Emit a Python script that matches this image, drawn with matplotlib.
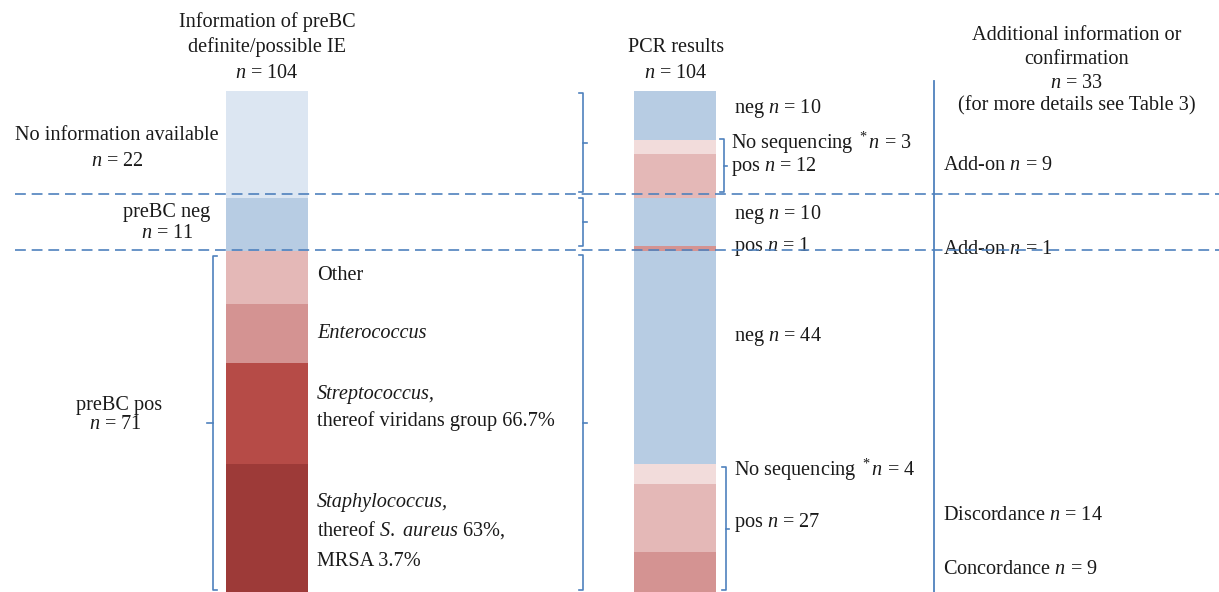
import matplotlib
matplotlib.use("Agg")
import matplotlib.pyplot as plt
import numpy as np

plt.rcParams['font.family'] = ['Liberation Serif', 'DejaVu Serif']
plt.rcParams['mathtext.fontset'] = 'custom'
plt.rcParams['mathtext.rm'] = 'Liberation Serif'
plt.rcParams['mathtext.it'] = 'Liberation Serif:italic'

# left bar: preBC information (top to bottom)
left_names = ['No information', 'preBC neg', 'Other', 'Enterococcus', 'Streptococcus', 'Staphylococcus']
left_counts = [22, 11, 11, 12, 21, 27]
left_colors = ['#dce6f2', '#b7cce3', '#e4b8b7', '#d49392', '#b64b47', '#9d3a38']

# right bar: PCR results (top to bottom)
right_names = ['neg', 'no seq', 'pos add-on', 'neg', 'pos add-on', 'neg', 'no seq', 'discordance', 'concordance']
right_counts = [10, 3, 9, 10, 1, 44, 4, 14, 9]
right_colors = ['#b7cce3', '#f2dcdb', '#e4b8b7', '#b7cce3', '#d49392', '#b7cce3', '#f2dcdb', '#e4b8b7', '#d49392']

W, H = 1219, 592
TOP, SCALE = 91, 4.85  # pixel of count 0, pixels per count
BLUE = '#4f81bd'
FS = 14.6

fig = plt.figure(figsize=(W / 100, H / 100), dpi=100)
ax = fig.add_axes([0, 0, 1, 1])
ax.set_xlim(0, W)
ax.set_ylim((H - TOP) / SCALE, -TOP / SCALE)
ax.axis('off')


def cy(py):
    # pixel row -> count axis
    return (py - TOP) / SCALE


def stack(x, counts, colors):
    bottoms = np.concatenate([[0], np.cumsum(counts)[:-1]])
    ax.bar(x, counts, bottom=bottoms, width=82, color=colors, linewidth=0)


stack(267, left_counts, left_colors)
stack(675, right_counts, right_colors)

# dashed separators
for py in [194, 250]:
    ax.plot([15, W], [cy(py), cy(py)], color=BLUE, lw=1.2, ls=(0, (6.5, 3.5)), zorder=5)

# vertical divider
ax.plot([934, 934], [cy(81), cy(H + 5)], color=BLUE, lw=1.3)


def bracket(x, y0, y1, cap, tick):
    # cap: horizontal direction of end caps, tick: direction of middle tick
    ym = (y0 + y1) / 2
    ax.plot([x + cap, x, x, x + cap], [cy(y0), cy(y0), cy(y1), cy(y1)], color=BLUE, lw=1.2)
    ax.plot([x, x + tick], [cy(ym), cy(ym)], color=BLUE, lw=1.2)


bracket(213, 256, 590, 4, -6)
bracket(583, 93, 192, -4, 4)
bracket(583, 198, 246, -4, 4)
bracket(583, 255, 590, -4, 4)
bracket(724, 139, 192, -4, 3)
bracket(726, 467, 590, -4, 3)


def txt(x, y, s, ha='left', **kw):
    ax.text(x, cy(y), s, ha=ha, va='center', fontsize=FS, color='#1a1a1a', **kw)


# column headers
txt(267, 22, 'Information of preBC', ha='center')
txt(267, 47, 'definite/possible IE', ha='center')
txt(267, 73, '$n$ = 104', ha='center')
txt(676, 47, 'PCR results', ha='center')
txt(676, 73, '$n$ = 104', ha='center')
txt(1077, 35, 'Additional information or', ha='center')
txt(1077, 59, 'confirmation', ha='center')
txt(1077, 83, '$n$ = 33', ha='center')
txt(1077, 106, '(for more details see Table 3)', ha='center')

# left side labels
txt(117, 135, 'No information available', ha='center')
txt(117, 162, '$n$ = 22', ha='center')
txt(167, 212, 'preBC neg', ha='center')
txt(167, 233, '$n$ = 11', ha='center')
txt(119, 405, 'preBC pos', ha='center')
txt(115, 424, '$n$ = 71', ha='center')

# pathogen labels
txt(317, 276, 'Other')
txt(317, 334, 'Enterococcus', style='italic')
txt(317, 394, 'Streptococcus,', style='italic')
txt(317, 421, 'thereof viridans group 66.7%')
txt(317, 502, 'Staphylococcus,', style='italic')
txt(317, 530, r'thereof $S.\ aureus$ 63%,')
txt(317, 562, 'MRSA 3.7%')

# PCR labels
txt(734, 108, 'neg $n$ = 10')
txt(731, 143, 'No sequencing $^*n$ = 3')
txt(731, 167, 'pos $n$ = 12')
txt(734, 214, 'neg $n$ = 10')
txt(734, 246, 'pos $n$ = 1')
txt(734, 337, 'neg $n$ = 44')
txt(734, 470, 'No sequencing $^*n$ = 4')
txt(734, 523, 'pos $n$ = 27')

# additional information
txt(943, 166, 'Add-on $n$ = 9')
txt(943, 249, 'Add-on $n$ = 1')
txt(943, 515, 'Discordance $n$ = 14')
txt(943, 569, 'Concordance $n$ = 9')

fig.savefig('out.png', dpi=100)
